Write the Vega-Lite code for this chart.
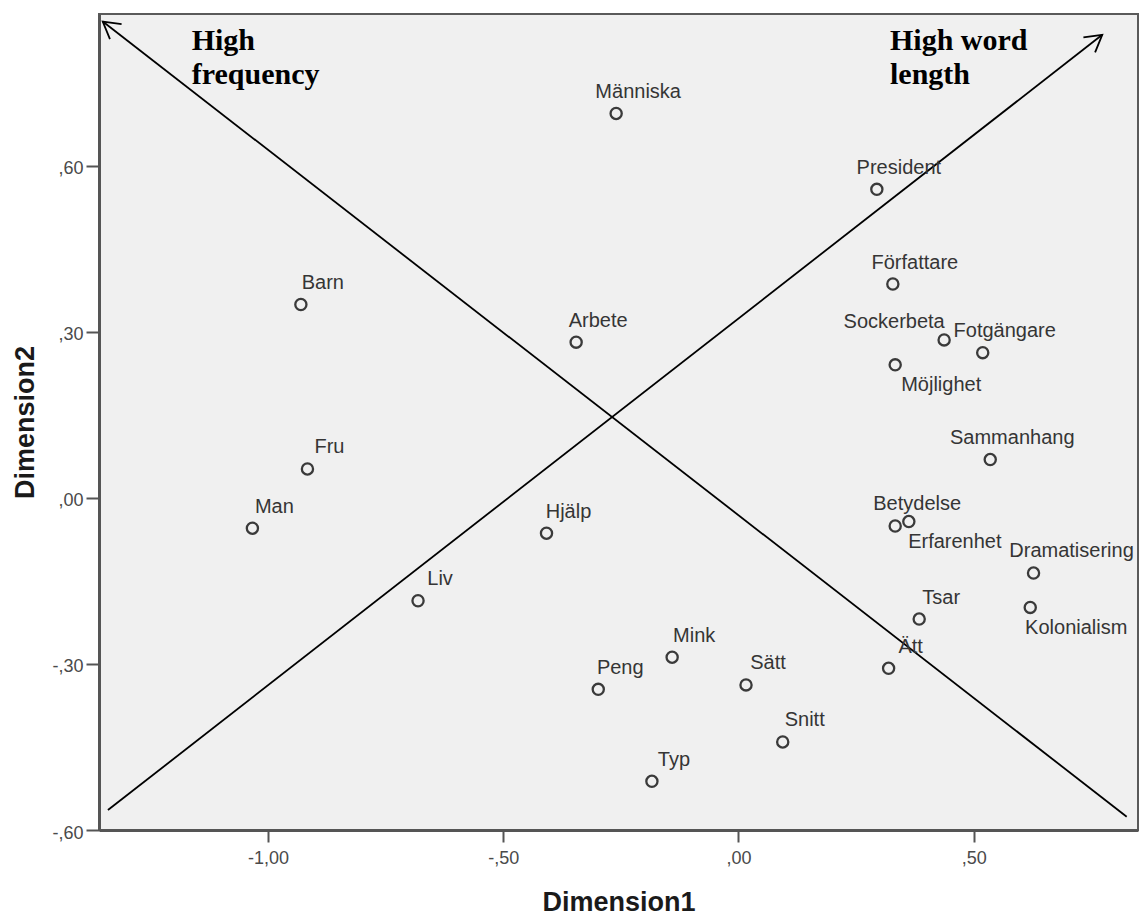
{
  "$schema": "https://vega.github.io/schema/vega-lite/v6.json",
  "description": "MDS plot of Swedish words, Dimension1 against Dimension2, with two annotated directions.",
  "width": 1039,
  "height": 816,
  "autosize": {"type": "none"},
  "padding": {"left": 99, "top": 14, "right": 3, "bottom": 85},
  "background": "white",
  "config": {
    "view": {"stroke": "#5a5a5a", "strokeWidth": 2, "fill": "#f0f0f0"},
    "font": "Liberation Sans"
  },
  "datasets": {
    "words": [
      {"word": "Människa", "d1": -0.260, "d2": 0.694},
      {"word": "President", "d1": 0.294, "d2": 0.557},
      {"word": "Barn", "d1": -0.930, "d2": 0.349},
      {"word": "Författare", "d1": 0.328, "d2": 0.386},
      {"word": "Arbete", "d1": -0.345, "d2": 0.281},
      {"word": "Sockerbeta", "d1": 0.437, "d2": 0.285},
      {"word": "Fotgängare", "d1": 0.519, "d2": 0.262},
      {"word": "Möjlighet", "d1": 0.333, "d2": 0.240},
      {"word": "Sammanhang", "d1": 0.535, "d2": 0.069},
      {"word": "Fru", "d1": -0.916, "d2": 0.052},
      {"word": "Man", "d1": -1.033, "d2": -0.055},
      {"word": "Hjälp", "d1": -0.408, "d2": -0.064},
      {"word": "Betydelse", "d1": 0.333, "d2": -0.051},
      {"word": "Erfarenhet", "d1": 0.362, "d2": -0.043},
      {"word": "Dramatisering", "d1": 0.627, "d2": -0.136},
      {"word": "Liv", "d1": -0.681, "d2": -0.186},
      {"word": "Kolonialism", "d1": 0.620, "d2": -0.198},
      {"word": "Tsar", "d1": 0.384, "d2": -0.219},
      {"word": "Mink", "d1": -0.141, "d2": -0.288},
      {"word": "Ätt", "d1": 0.319, "d2": -0.308},
      {"word": "Peng", "d1": -0.298, "d2": -0.346},
      {"word": "Sätt", "d1": 0.016, "d2": -0.338},
      {"word": "Snitt", "d1": 0.094, "d2": -0.441},
      {"word": "Typ", "d1": -0.184, "d2": -0.512}
    ],
    "arrows": [
      {"note": "High word length", "d1": 0.773, "d2": 0.836, "d1end": -1.340, "d2end": -0.564},
      {"note": "High frequency", "d1": -1.351, "d2": 0.860, "d1end": 0.825, "d2end": -0.576}
    ],
    "notes": [
      {"note": "High\nfrequency", "d1": -1.162, "d2": 0.8086},
      {"note": "High word\nlength", "d1": 0.322, "d2": 0.8086}
    ]
  },
  "encoding": {
    "x": {
      "field": "d1",
      "type": "quantitative",
      "scale": {"domain": [-1.359, 0.849], "nice": false, "zero": false},
      "axis": {
        "title": "Dimension1",
        "values": [-1, -0.5, 0, 0.5],
        "labelExpr": "replace(replace(replace(format(datum.value, '.2f'), '\u2212', '-'), '0.', ','), '.', ',')",
        "grid": false,
        "domainColor": "#555555",
        "domainWidth": 3,
        "tickColor": "#555555",
        "tickWidth": 2,
        "tickSize": 12,
        "labelFont": "Liberation Sans",
        "labelFontSize": 18,
        "labelColor": "#4a4a4a",
        "labelPadding": 7,
        "titleFont": "Liberation Sans",
        "titleFontSize": 27,
        "titleFontWeight": "bold",
        "titleColor": "#1a1a1a",
        "titleX": 519.5,
        "titleY": 80,
        "titleAlign": "center",
        "titleBaseline": "alphabetic"
      }
    },
    "y": {
      "field": "d2",
      "type": "quantitative",
      "scale": {"domain": [-0.6, 0.8736], "nice": false, "zero": false},
      "axis": {
        "title": "Dimension2",
        "values": [-0.6, -0.3, 0, 0.3, 0.6],
        "labelExpr": "replace(replace(replace(format(datum.value, '.2f'), '\u2212', '-'), '0.', ','), '.', ',')",
        "grid": false,
        "domainColor": "#555555",
        "domainWidth": 3,
        "tickColor": "#555555",
        "tickWidth": 2,
        "tickSize": 13,
        "labelFont": "Liberation Sans",
        "labelFontSize": 18,
        "labelColor": "#4a4a4a",
        "labelPadding": 3,
        "labelOffset": 3,
        "titleFont": "Liberation Sans",
        "titleFontSize": 27,
        "titleFontWeight": "bold",
        "titleColor": "#1a1a1a",
        "titleAngle": -90,
        "titleX": -66,
        "titleY": 408,
        "titleAlign": "center",
        "titleBaseline": "alphabetic"
      }
    }
  },
  "layer": [
    {
      "data": {"name": "arrows"},
      "mark": {"type": "rule", "color": "black", "strokeWidth": 1.8},
      "encoding": {
        "x2": {"field": "d1end"},
        "y2": {"field": "d2end"}
      }
    },
    {
      "data": {"name": "arrows"},
      "transform": [{"filter": "datum.note == 'High word length'"}],
      "mark": {"type": "point", "shape": "M -0.866 -0.5 L 0 0 L -0.866 0.5", "size": 1444, "angle": 322.1, "filled": false, "stroke": "black", "strokeWidth": 1.8, "opacity": 1}
    },
    {
      "data": {"name": "arrows"},
      "transform": [{"filter": "datum.note == 'High frequency'"}],
      "mark": {"type": "point", "shape": "M -0.866 -0.5 L 0 0 L -0.866 0.5", "size": 1444, "angle": 217.8, "filled": false, "stroke": "black", "strokeWidth": 1.8, "opacity": 1}
    },
    {
      "data": {"name": "words"},
      "mark": {"type": "point", "shape": "circle", "size": 125, "filled": false, "stroke": "#3a3a3a", "strokeWidth": 2.3, "opacity": 1}
    },
    {
      "data": {"name": "words"},
      "transform": [{"filter": "indexof(['Möjlighet', 'Kolonialism', 'Erfarenhet', 'Dramatisering', 'Sockerbeta'], datum.word) < 0"}],
      "mark": {"type": "text", "align": "center", "baseline": "alphabetic", "dx": 22, "dy": -15.5, "font": "Liberation Sans", "fontSize": 20, "color": "#353535"},
      "encoding": {"text": {"field": "word"}}
    },
    {
      "data": {"name": "words"},
      "transform": [{"filter": "indexof(['Möjlighet', 'Kolonialism', 'Erfarenhet'], datum.word) >= 0"}],
      "mark": {"type": "text", "align": "center", "baseline": "alphabetic", "dx": 46, "dy": 26.5, "font": "Liberation Sans", "fontSize": 20, "color": "#353535"},
      "encoding": {"text": {"field": "word"}}
    },
    {
      "data": {"name": "words"},
      "transform": [{"filter": "datum.word == 'Dramatisering'"}],
      "mark": {"type": "text", "align": "center", "baseline": "alphabetic", "dx": 38, "dy": -16.5, "font": "Liberation Sans", "fontSize": 20, "color": "#353535"},
      "encoding": {"text": {"field": "word"}}
    },
    {
      "data": {"name": "words"},
      "transform": [{"filter": "datum.word == 'Sockerbeta'"}],
      "mark": {"type": "text", "align": "center", "baseline": "alphabetic", "dx": -50, "dy": -12, "font": "Liberation Sans", "fontSize": 20, "color": "#353535"},
      "encoding": {"text": {"field": "word"}}
    },
    {
      "data": {"name": "notes"},
      "mark": {"type": "text", "align": "left", "baseline": "alphabetic", "lineBreak": "\n", "lineHeight": 34, "font": "Liberation Serif", "fontSize": 30, "fontWeight": "bold", "color": "black"},
      "encoding": {"text": {"field": "note"}}
    }
  ]
}
